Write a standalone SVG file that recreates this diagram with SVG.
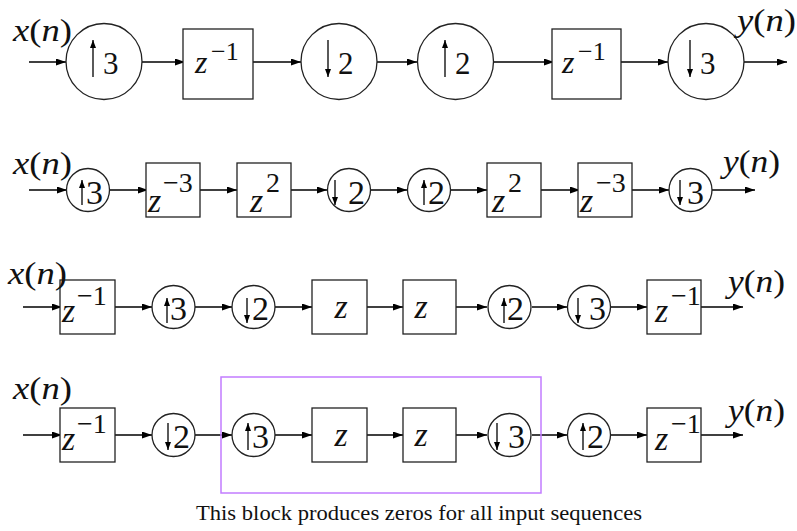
<svg xmlns="http://www.w3.org/2000/svg" width="797" height="531" viewBox="0 0 797 531">
<defs>
<marker id="ah" viewBox="0 0 10 7" refX="10" refY="3.5" markerWidth="10" markerHeight="7" markerUnits="userSpaceOnUse" orient="auto"><path d="M0,0 L10,3.5 L0,7 z" fill="#000"/></marker>
<marker id="ahs" viewBox="0 0 8 6" refX="8" refY="3" markerWidth="8" markerHeight="6" markerUnits="userSpaceOnUse" orient="auto"><path d="M0,0 L8,3 L0,6 z" fill="#000"/></marker>
</defs>
<style>
.n{fill:#fff;stroke:#222;stroke-width:1.3}
.c line{stroke:#000;stroke-width:1.3;marker-end:url(#ah)}
.ia{stroke:#000;stroke-width:1.3;marker-end:url(#ahs)}
.t{font-family:'Liberation Serif',serif;fill:#111}
.i{font-style:italic}
.d1{font-size:31px}
.d2{font-size:34px}
.z1{font-size:32px;font-style:italic}
.s1{font-size:26px}
.z2{font-size:34px;font-style:italic}
.s2{font-size:28px}
.lab{font-size:31px}
.cap{font-size:22px}
</style>

<g id="connectors" class="c">
<line x1="29" y1="62" x2="66" y2="62"/>
<line x1="142" y1="62" x2="185" y2="62"/>
<line x1="253" y1="62" x2="301" y2="62"/>
<line x1="377" y1="62" x2="417" y2="62"/>
<line x1="494" y1="62" x2="554" y2="62"/>
<line x1="621" y1="62" x2="668" y2="62"/>
<line x1="744" y1="62" x2="787" y2="62"/>
<line x1="29" y1="190" x2="67" y2="190"/>
<line x1="109" y1="190" x2="148" y2="190"/>
<line x1="200" y1="190" x2="237" y2="190"/>
<line x1="291" y1="190" x2="327" y2="190"/>
<line x1="371" y1="190" x2="407" y2="190"/>
<line x1="451" y1="190" x2="487" y2="190"/>
<line x1="541" y1="190" x2="580" y2="190"/>
<line x1="632" y1="190" x2="669" y2="190"/>
<line x1="712" y1="190" x2="755" y2="190"/>
<line x1="23" y1="307" x2="62" y2="307"/>
<line x1="115" y1="307" x2="152" y2="307"/>
<line x1="195" y1="307" x2="232" y2="307"/>
<line x1="275" y1="307" x2="312" y2="307"/>
<line x1="367" y1="307" x2="403" y2="307"/>
<line x1="450" y1="307" x2="487" y2="307"/>
<line x1="532" y1="307" x2="567" y2="307"/>
<line x1="611" y1="307" x2="647" y2="307"/>
<line x1="701" y1="307" x2="743" y2="307"/>
<line x1="23" y1="435" x2="62" y2="435"/>
<line x1="115" y1="435" x2="152" y2="435"/>
<line x1="195" y1="435" x2="232" y2="435"/>
<line x1="275" y1="435" x2="312" y2="435"/>
<line x1="367" y1="435" x2="403" y2="435"/>
<line x1="450" y1="435" x2="487" y2="435"/>
<line x1="532" y1="435" x2="567" y2="435"/>
<line x1="611" y1="435" x2="647" y2="435"/>
<line x1="701" y1="435" x2="743" y2="435"/>
</g>

<!-- Row 1 -->
<g id="r1-up3"><circle class="n" cx="104" cy="61.5" r="38"/><line class="ia" x1="93" y1="77" x2="93" y2="40"/><text class="t d1" x="103" y="74">3</text></g>
<g id="r1-delay1"><rect class="n" x="183" y="29" width="70" height="70"/><text class="t z1" x="195" y="73">z</text><text class="t s1" x="211" y="60">−1</text></g>
<g id="r1-down2"><circle class="n" cx="339" cy="61.5" r="38"/><line class="ia" x1="328" y1="40" x2="328" y2="77"/><text class="t d1" x="338" y="74">2</text></g>
<g id="r1-up2"><circle class="n" cx="455.5" cy="61.5" r="38"/><line class="ia" x1="445" y1="77" x2="445" y2="40"/><text class="t d1" x="455" y="74">2</text></g>
<g id="r1-delay2"><rect class="n" x="552" y="29" width="69" height="70"/><text class="t z1" x="562" y="73">z</text><text class="t s1" x="578" y="60">−1</text></g>
<g id="r1-down3"><circle class="n" cx="706" cy="61.5" r="38"/><line class="ia" x1="690" y1="40" x2="690" y2="77"/><text class="t d1" x="700" y="74">3</text></g>
<g id="r1-x"><text class="t lab" x="13" y="41" textLength="59" lengthAdjust="spacingAndGlyphs"><tspan class="i">x</tspan>(<tspan class="i">n</tspan>)</text></g>
<g id="r1-y"><text class="t lab" x="737" y="31" textLength="59" lengthAdjust="spacingAndGlyphs"><tspan class="i">y</tspan>(<tspan class="i">n</tspan>)</text></g>

<!-- Row 2 -->
<g id="r2-up3"><circle class="n" cx="88" cy="190" r="21.5"/><line class="ia" x1="82" y1="205" x2="82" y2="180"/><text class="t d2" x="86" y="204">3</text></g>
<g id="r2-zm3"><rect class="n" x="146" y="163" width="54" height="54"/><text class="t z2" x="148" y="212">z</text><text class="t s2" x="163" y="192">−3</text></g>
<g id="r2-z2a"><rect class="n" x="237" y="163" width="54" height="54"/><text class="t z2" x="250" y="212">z</text><text class="t s2" x="266" y="192">2</text></g>
<g id="r2-down2"><circle class="n" cx="349" cy="190" r="21.5"/><line class="ia" x1="335" y1="180" x2="335" y2="205"/><text class="t d2" x="348" y="204">2</text></g>
<g id="r2-up2"><circle class="n" cx="429" cy="190" r="21.5"/><line class="ia" x1="424" y1="205" x2="424" y2="180"/><text class="t d2" x="428" y="204">2</text></g>
<g id="r2-z2b"><rect class="n" x="487" y="163" width="54" height="54"/><text class="t z2" x="492" y="212">z</text><text class="t s2" x="508" y="192">2</text></g>
<g id="r2-zm3b"><rect class="n" x="578" y="163" width="54" height="54"/><text class="t z2" x="580" y="212">z</text><text class="t s2" x="596" y="192">−3</text></g>
<g id="r2-down3"><circle class="n" cx="690.5" cy="190" r="21.5"/><line class="ia" x1="680" y1="180" x2="680" y2="205"/><text class="t d2" x="687" y="204">3</text></g>
<g id="r2-x"><text class="t lab" x="13" y="174" textLength="59" lengthAdjust="spacingAndGlyphs"><tspan class="i">x</tspan>(<tspan class="i">n</tspan>)</text></g>
<g id="r2-y"><text class="t lab" x="723" y="172" textLength="57" lengthAdjust="spacingAndGlyphs"><tspan class="i">y</tspan>(<tspan class="i">n</tspan>)</text></g>

<!-- Row 3 -->
<g id="r3-zm1"><rect class="n" x="60" y="280" width="55" height="54"/><text class="t z2" x="62" y="322">z</text><text class="t s2" x="77" y="305">−1</text></g>
<g id="r3-up3"><circle class="n" cx="173.5" cy="307" r="21.5"/><line class="ia" x1="167" y1="323" x2="167" y2="298"/><text class="t d2" x="170" y="320">3</text></g>
<g id="r3-down2"><circle class="n" cx="253.5" cy="307" r="21.5"/><line class="ia" x1="247" y1="298" x2="247" y2="323"/><text class="t d2" x="252" y="320">2</text></g>
<g id="r3-za"><rect class="n" x="312" y="280" width="55" height="54"/><text class="t z2" x="341" y="318" text-anchor="middle">z</text></g>
<g id="r3-zb"><rect class="n" x="403" y="280" width="53" height="54"/><text class="t z2" x="421" y="318" text-anchor="middle">z</text></g>
<g id="r3-up2"><circle class="n" cx="509.5" cy="307" r="21.5"/><line class="ia" x1="504" y1="323" x2="504" y2="298"/><text class="t d2" x="507" y="320">2</text></g>
<g id="r3-down3"><circle class="n" cx="589" cy="307" r="21.5"/><line class="ia" x1="578" y1="298" x2="578" y2="323"/><text class="t d2" x="589" y="320">3</text></g>
<g id="r3-zm1b"><rect class="n" x="647" y="280" width="54" height="54"/><text class="t z2" x="655" y="322">z</text><text class="t s2" x="671" y="305">−1</text></g>
<g id="r3-x"><text class="t lab" x="8" y="284" textLength="59" lengthAdjust="spacingAndGlyphs"><tspan class="i">x</tspan>(<tspan class="i">n</tspan>)</text></g>
<g id="r3-y"><text class="t lab" x="728" y="292" textLength="57" lengthAdjust="spacingAndGlyphs"><tspan class="i">y</tspan>(<tspan class="i">n</tspan>)</text></g>

<!-- Row 4 -->
<rect id="zero-block" x="221" y="377" width="320" height="116" fill="none" stroke="#c27cff" stroke-width="1.5"/>
<g id="r4-zm1"><rect class="n" x="60" y="408" width="55" height="54"/><text class="t z2" x="62" y="450">z</text><text class="t s2" x="77" y="433">−1</text></g>
<g id="r4-down2"><circle class="n" cx="173.5" cy="435" r="21.5"/><line class="ia" x1="168" y1="423" x2="168" y2="450"/><text class="t d2" x="173" y="448">2</text></g>
<g id="r4-up3"><circle class="n" cx="253.5" cy="435" r="21.5"/><line class="ia" x1="248" y1="450" x2="248" y2="423"/><text class="t d2" x="252" y="448">3</text></g>
<g id="r4-za"><rect class="n" x="312" y="408" width="55" height="54"/><text class="t z2" x="341" y="446" text-anchor="middle">z</text></g>
<g id="r4-zb"><rect class="n" x="403" y="408" width="53" height="54"/><text class="t z2" x="421" y="446" text-anchor="middle">z</text></g>
<g id="r4-down3"><circle class="n" cx="509.5" cy="435" r="21.5"/><line class="ia" x1="497" y1="423" x2="497" y2="450"/><text class="t d2" x="508" y="448">3</text></g>
<g id="r4-up2"><circle class="n" cx="589" cy="435" r="21.5"/><line class="ia" x1="583" y1="450" x2="583" y2="423"/><text class="t d2" x="587" y="448">2</text></g>
<g id="r4-zm1b"><rect class="n" x="647" y="408" width="54" height="54"/><text class="t z2" x="655" y="450">z</text><text class="t s2" x="671" y="433">−1</text></g>
<g id="r4-x"><text class="t lab" x="13" y="399" textLength="59" lengthAdjust="spacingAndGlyphs"><tspan class="i">x</tspan>(<tspan class="i">n</tspan>)</text></g>
<g id="r4-y"><text class="t lab" x="728" y="421" textLength="57" lengthAdjust="spacingAndGlyphs"><tspan class="i">y</tspan>(<tspan class="i">n</tspan>)</text></g>
<g id="caption"><text class="t cap" x="196" y="520" textLength="446" lengthAdjust="spacingAndGlyphs">This block produces zeros for all input sequences</text></g>
</svg>
